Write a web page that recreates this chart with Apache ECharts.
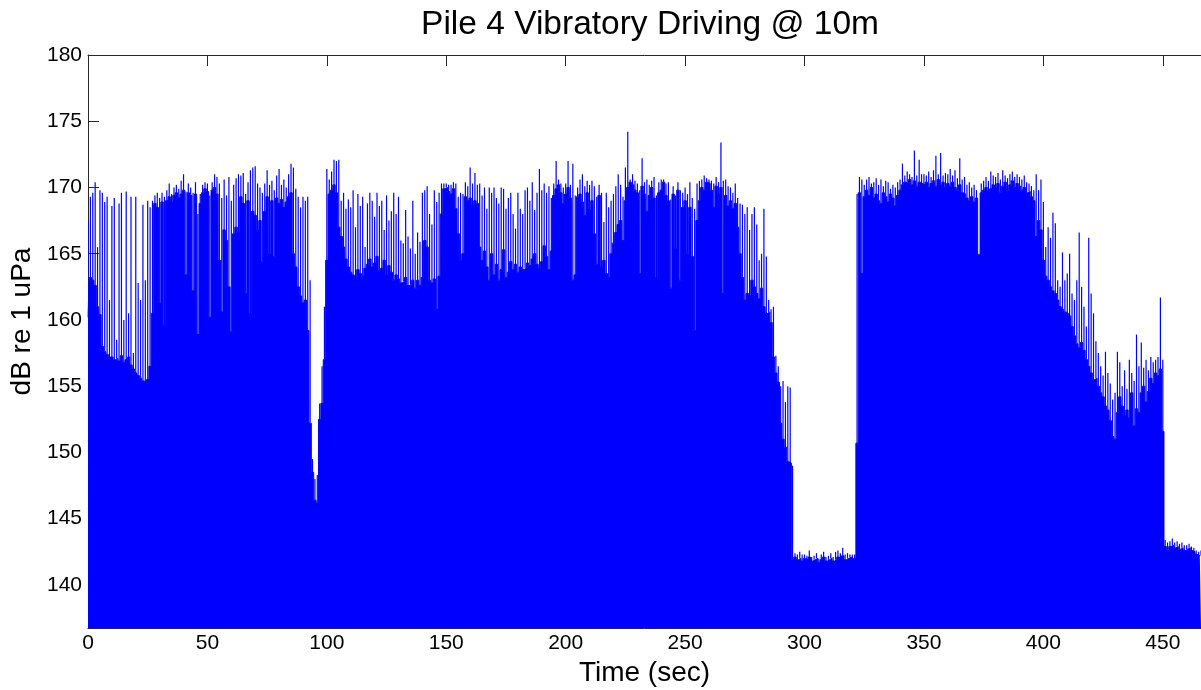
<!DOCTYPE html>
<html>
<head>
<meta charset="utf-8">
<title>Pile 4 Vibratory Driving @ 10m</title>
<script src="https://cdn.jsdelivr.net/npm/echarts@6/dist/echarts.min.js"></script>
<style>
  html, body { margin: 0; padding: 0; background: #fff; }
  #main { width: 1201px; height: 690px; }
</style>
</head>
<body>
<div id="main"></div>
<script>
// level of the solid fill in each second (dB)
const baseDb = [
  160.2,163.2,163.0,162.6,161.0,160.4,158.0,157.6,157.4,157.2,
  157.2,157.0,157.1,156.9,157.3,156.8,157.0,157.2,156.6,156.3,
  156.0,155.8,155.6,155.4,155.3,155.5,156.5,160.5,168.8,168.5,
  161.3,168.9,159.6,169.0,169.3,168.9,169.4,169.6,169.2,169.5,
  169.8,163.4,169.6,169.4,162.2,169.5,158.9,168.8,169.6,169.9,
  169.7,160.2,169.8,170.0,169.5,164.5,160.6,166.8,166.0,162.5,
  159.1,166.5,167.0,166.6,169.3,168.8,162.0,169.0,160.5,168.2,
  167.9,166.8,167.5,164.4,168.2,169.3,165.0,169.0,164.8,169.2,
  168.8,169.1,168.5,168.9,169.3,169.6,165.0,164.0,162.5,161.8,
  161.3,161.5,159.2,152.2,148.5,146.4,146.2,152.5,153.7,157.0,
  164.5,169.5,169.8,170.2,169.6,167.0,166.3,165.5,164.6,164.0,
  163.6,163.4,163.2,163.8,163.5,163.3,163.9,164.2,164.6,164.0,
  164.3,164.8,163.7,163.9,164.5,163.4,164.1,163.6,163.0,163.4,
  163.1,162.8,162.9,163.2,162.6,162.7,163.0,162.4,163.0,162.6,
  163.2,166.0,165.5,163.0,162.8,163.1,160.8,163.3,168.0,169.9,
  170.0,169.7,169.5,169.9,168.4,166.5,164.5,165.0,169.3,169.0,
  169.2,168.6,169.0,168.8,165.5,164.5,165.2,164.0,163.0,165.0,
  163.4,164.2,163.0,163.8,165.3,163.2,163.6,164.4,163.8,164.2,
  163.6,164.0,163.8,163.9,164.3,164.1,164.6,165.0,164.2,163.9,
  164.4,165.6,164.8,163.8,165.2,169.4,169.9,170.2,169.6,168.8,
  169.5,170.0,169.2,163.0,163.4,169.3,169.5,168.9,167.9,169.6,
  168.3,169.0,166.5,164.2,169.4,164.0,164.5,163.5,163.2,165.0,
  165.8,166.6,167.2,167.5,166.0,169.0,170.0,170.4,170.2,169.8,
  169.6,163.5,170.1,169.5,168.2,169.4,170.0,169.2,163.2,169.6,
  169.8,170.4,169.4,169.0,162.4,169.5,165.4,169.8,163.0,168.5,
  169.0,165.0,168.5,164.8,159.2,167.5,169.0,170.0,169.8,170.4,
  170.3,169.8,168.5,170.1,169.5,170.0,162.0,169.4,168.6,169.0,
  168.4,168.8,167.0,165.0,163.2,161.5,162.0,161.8,163.0,162.5,
  162.0,161.6,162.4,161.0,160.5,160.6,159.8,157.2,156.0,155.3,
  152.2,151.0,150.4,149.3,149.2,141.9,142.1,141.9,142.0,141.8,
  142.0,141.9,142.1,141.8,141.9,142.0,141.7,141.9,142.1,141.8,
  141.9,142.0,141.8,141.9,142.1,142.0,142.2,141.9,142.0,142.1,
  142.0,142.0,150.7,169.6,163.5,169.3,169.8,169.4,170.0,169.2,
  169.5,169.0,168.8,169.6,169.3,168.9,169.5,169.2,168.6,169.4,
  169.8,170.2,170.4,170.3,170.6,170.2,170.5,170.1,170.4,170.3,
  170.2,170.4,170.0,170.3,170.5,170.1,170.6,170.2,170.4,170.0,
  170.3,170.1,170.4,170.0,169.8,170.2,169.6,169.5,169.2,169.0,
  169.3,168.9,169.2,164.9,169.6,169.8,170.0,169.7,169.9,170.2,
  170.0,170.3,169.6,170.1,170.4,169.8,170.2,170.5,170.0,170.3,
  170.1,169.8,170.0,169.6,169.7,169.3,169.0,166.3,167.5,166.8,
  164.5,163.3,163.0,162.5,162.2,162.0,161.5,161.0,160.8,160.6,
  160.5,160.3,159.5,158.8,158.2,157.9,158.3,157.7,157.0,156.5,
  156.0,155.5,155.6,155.0,154.5,154.2,153.5,153.2,152.4,151.2,
  151.0,153.0,154.2,153.5,152.8,153.2,152.6,154.5,152.0,153.3,
  153.0,154.5,155.0,153.8,154.6,155.6,155.2,156.0,155.8,156.3,
  151.6,142.9,142.7,142.9,143.0,142.8,142.9,142.7,142.8,142.6,
  142.7,142.8,142.6,142.5,142.3,142.2,142.3
];

// highest spike in each second (dB)
const peakDb = [
  167.5,169.3,169.6,170.4,165.5,169.8,169.6,168.9,169.3,161.5,
  168.6,169.2,158.5,168.8,169.6,160.0,169.7,160.5,169.3,157.5,
  169.3,162.8,161.5,168.7,163.0,169.0,168.5,169.0,169.4,169.6,
  169.2,169.6,169.3,169.8,170.3,169.5,170.0,170.2,169.9,170.5,
  171.0,169.7,170.3,170.0,169.6,170.4,168.0,169.5,170.2,170.4,
  170.3,169.4,170.4,171.0,170.8,170.3,169.2,170.6,169.4,170.8,
  169.0,170.2,170.7,171.0,170.9,171.1,169.5,170.4,171.3,171.5,
  171.6,170.3,170.0,169.6,170.3,171.3,170.2,170.5,169.8,170.9,
  171.4,170.2,170.6,170.0,171.0,171.8,171.5,169.9,169.3,168.5,
  169.3,169.0,169.3,163.0,149.5,148.0,148.3,153.7,156.5,161.0,
  171.4,170.6,171.2,172.1,172.0,172.1,169.0,169.6,168.4,169.1,
  168.5,169.8,167.0,169.5,168.6,169.3,165.5,168.8,169.6,169.0,
  167.8,169.6,168.6,169.0,166.8,169.4,167.5,168.2,169.6,168.0,
  169.3,166.0,165.8,168.3,166.3,165.4,169.0,165.0,166.6,165.9,
  169.6,169.8,170.1,168.0,167.2,169.8,168.9,169.6,170.3,170.3,
  170.3,170.2,170.2,170.4,170.3,169.3,169.6,169.5,170.4,170.1,
  171.5,170.3,171.1,170.2,170.3,169.4,170.0,168.4,170.0,169.6,
  170.0,169.2,168.8,170.0,169.9,168.4,169.2,169.6,168.0,166.9,
  169.6,168.4,168.0,169.8,170.0,169.0,170.4,168.3,169.6,171.4,
  169.8,170.3,169.6,170.1,169.2,170.3,172.0,170.6,170.3,170.0,
  170.3,172.0,170.2,171.8,169.4,170.0,170.6,171.0,170.1,170.5,
  170.2,170.5,170.1,169.3,170.2,169.6,167.4,169.6,168.5,169.0,
  169.5,170.1,171.0,170.2,169.3,171.5,174.2,170.6,171.0,170.5,
  170.3,169.8,172.2,170.4,170.6,170.2,170.5,170.8,169.4,170.4,
  170.6,170.6,170.3,170.4,169.1,170.1,169.4,170.4,169.8,169.6,
  170.0,169.5,170.4,169.2,168.4,170.3,170.5,170.6,170.9,170.7,
  170.6,170.5,170.3,170.8,170.4,173.4,170.5,170.6,170.1,170.0,
  169.6,170.3,169.2,168.8,168.7,168.0,168.5,166.8,168.0,168.5,
  167.2,164.5,165.0,168.4,164.8,161.5,160.8,161.0,157.3,156.5,
  155.0,155.4,153.8,155.0,154.9,149.0,142.4,142.3,142.5,142.3,
  142.3,142.2,142.6,142.1,142.2,142.4,142.0,142.3,142.5,142.1,
  142.2,142.4,142.1,142.5,142.6,142.4,142.8,142.3,142.4,142.3,
  142.3,142.3,169.5,170.8,170.6,170.2,170.6,170.8,170.3,170.4,
  170.7,170.2,170.6,170.1,170.5,170.4,169.9,170.2,170.0,170.4,
  170.6,171.8,170.9,171.2,171.0,170.8,172.8,170.9,172.1,171.0,
  171.0,170.9,171.2,170.8,171.3,172.4,171.0,172.6,170.9,171.1,
  171.0,171.4,170.9,171.3,170.7,172.2,170.6,170.8,170.2,170.4,
  170.0,170.2,169.8,165.0,170.3,170.5,170.8,170.5,171.2,170.9,
  170.8,171.1,170.6,171.3,170.9,170.7,171.0,171.2,170.8,171.0,
  170.8,170.6,170.9,170.4,170.3,170.1,169.8,171.0,169.8,170.6,
  168.9,165.5,167.0,166.2,168.1,167.3,163.0,162.5,165.1,163.0,
  163.5,165.0,162.0,161.5,163.0,166.6,162.5,161.0,159.5,166.2,
  162.0,160.5,158.4,157.5,156.5,155.8,157.6,156.0,155.2,154.0,
  154.5,157.6,156.8,155.0,156.2,154.8,157.0,156.0,155.4,158.9,
  156.5,158.3,156.4,157.0,156.2,157.2,156.8,157.0,157.2,161.7,
  157.0,143.4,143.2,143.3,143.5,143.2,143.3,143.1,143.2,143.0,
  143.0,143.1,142.9,142.8,142.6,142.5,142.6
];

const xTicks = [0, 50, 100, 150, 200, 250, 300, 350, 400, 450];
const yTicks = [140, 145, 150, 155, 160, 165, 170, 175, 180];

const tMax = 466;
const yMin = 136.75;
const font = 'Liberation Sans, Arial, Helvetica, sans-serif';

let myChart = echarts.init(document.getElementById('main'));

const axisLine = { lineStyle: { color: '#262626', width: 1 } };
const tick = { inside: true, length: 11, lineStyle: { color: '#262626' } };

myChart.setOption({
  animation: false,
  backgroundColor: '#fff',
  title: {
    text: 'Pile 4 Vibratory Driving @ 10m',
    left: 645,
    top: 3,
    textAlign: 'center',
    textStyle: { fontFamily: font, fontSize: 33.5, fontWeight: 'normal', color: '#000' }
  },
  grid: { left: 88, right: 0, top: 55, bottom: 62, outerBoundsMode: 'none' },
  xAxis: [{
    type: 'value',
    position: 'bottom',
    min: 0,
    max: tMax,
    interval: 50,
    name: 'Time (sec)',
    nameLocation: 'middle',
    nameGap: 31,
    nameTextStyle: { fontFamily: font, fontSize: 28, color: '#000' },
    axisLine: axisLine,
    axisTick: tick,
    splitLine: { show: false },
    axisLabel: {
      margin: 5,
      fontFamily: font,
      fontSize: 21,
      color: '#000',
      formatter: v => xTicks.includes(v) ? String(v) : ''
    }
  }, {
    type: 'value',
    position: 'top',
    min: 0,
    max: tMax,
    interval: 50,
    axisLine: axisLine,
    axisTick: tick,
    splitLine: { show: false },
    axisLabel: { show: false }
  }],
  yAxis: {
    type: 'value',
    min: yMin,
    max: 180,
    splitNumber: 9,
    minInterval: 5,
    maxInterval: 5,
    name: 'dB re 1 uPa',
    nameLocation: 'middle',
    nameRotate: 90,
    nameGap: 44,
    nameTextStyle: { fontFamily: font, fontSize: 28, color: '#000', padding: [0, 0, 0, 40] },
    axisLine: { show: true, lineStyle: { color: '#262626', width: 1 } },
    axisTick: tick,
    splitLine: { show: false },
    axisLabel: {
      margin: 6,
      fontFamily: font,
      fontSize: 21,
      color: '#000',
      formatter: v => yTicks.includes(v) ? String(v) : ''
    }
  },
  series: [{
    // thin spike from the body level up to the peak of that second
    name: 'spikes',
    type: 'custom',
    xAxisIndex: 0,
    z: 1,
    clip: true,
    encode: { x: 0, y: [1, 2] },
    renderItem: function (params, api) {
      const lo = api.coord([api.value(0), api.value(1)]);
      const hi = api.coord([api.value(0), api.value(2)]);
      return {
        type: 'line',
        shape: { x1: hi[0], y1: hi[1], x2: lo[0], y2: lo[1] },
        style: { stroke: '#0000ff', lineWidth: 1.2 }
      };
    },
    data: peakDb.map((v, i) => [i, baseDb[i], v])
  }, {
    name: 'body',
    type: 'line',
    xAxisIndex: 0,
    z: 3,
    step: 'middle',
    symbol: 'none',
    lineStyle: { color: '#0000ff', width: 1 },
    areaStyle: { color: '#0000ff', opacity: 1, origin: 'start' },
    data: baseDb.map((v, i) => [i, v])
  }]
});
</script>
</body>
</html>
